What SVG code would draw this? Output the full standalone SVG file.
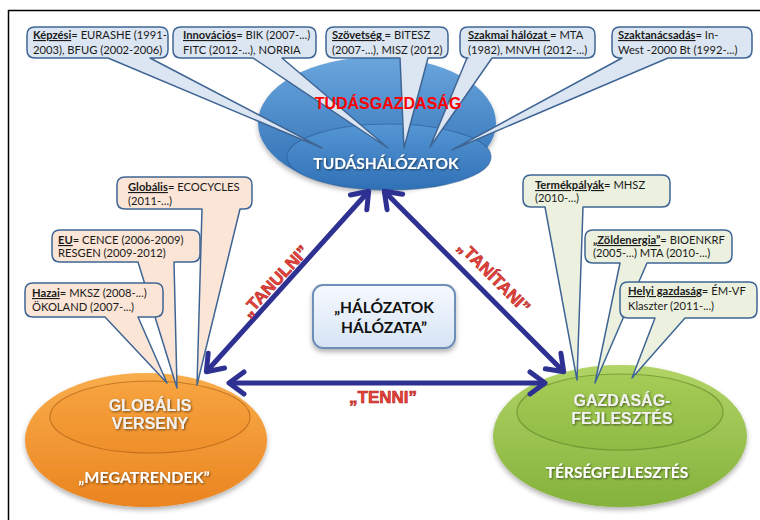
<svg xmlns="http://www.w3.org/2000/svg" width="760" height="520" viewBox="0 0 760 520">
<style>
.ct{font-family:Lato,"Liberation Sans",sans-serif;font-size:11.2px;fill:#1a1a1a}
.ct .k{font-weight:bold;text-decoration:underline}
.cb{fill:#dce6f2;stroke:#3f6594;stroke-width:1.5;stroke-linejoin:round}
.cp{fill:#fbe5d6;stroke:#3f6594;stroke-width:1.5;stroke-linejoin:round}
.cg{fill:#ebf1de;stroke:#3f6594;stroke-width:1.5;stroke-linejoin:round}
.ar{fill:none;stroke:#2e3192;stroke-width:5;marker-start:url(#ah);marker-end:url(#ah)}
.al{font-family:"Liberation Sans",Arial,sans-serif;font-weight:bold;font-size:17px;fill:#e8453c;stroke:#b51f1f;stroke-width:0.6;text-anchor:middle}
.ew{font-family:"Liberation Sans",Arial,sans-serif;font-weight:bold;font-size:16px;fill:#f2f2f2;text-anchor:middle}
.el{font-family:Lato,"Liberation Sans",sans-serif;font-weight:bold;fill:#ffffff;text-anchor:middle}
</style>
<defs>
<linearGradient id="gb" x1="0" y1="0" x2="0" y2="1"><stop offset="0" stop-color="#6aa6dd"/><stop offset="1" stop-color="#2c6cb2"/></linearGradient>
<linearGradient id="gbi" x1="0" y1="0" x2="0" y2="1"><stop offset="0" stop-color="#5596d4"/><stop offset="1" stop-color="#3070b6"/></linearGradient>
<linearGradient id="go" x1="0" y1="0" x2="0" y2="1"><stop offset="0" stop-color="#f9ad4c"/><stop offset="1" stop-color="#ea841f"/></linearGradient>
<linearGradient id="goi" x1="0" y1="0" x2="0" y2="1"><stop offset="0" stop-color="#f7a440"/><stop offset="1" stop-color="#ee8f2a"/></linearGradient>
<linearGradient id="gg" x1="0" y1="0" x2="0" y2="1"><stop offset="0" stop-color="#b2d467"/><stop offset="1" stop-color="#84b23b"/></linearGradient>
<linearGradient id="ggi" x1="0" y1="0" x2="0" y2="1"><stop offset="0" stop-color="#a5cc56"/><stop offset="1" stop-color="#8fbb44"/></linearGradient>
<linearGradient id="gc" x1="0" y1="0" x2="0" y2="1"><stop offset="0" stop-color="#f6f9fe"/><stop offset="1" stop-color="#d6e4f5"/></linearGradient>
<filter id="sh" x="-10%" y="-10%" width="120%" height="130%"><feDropShadow dx="0" dy="3" stdDeviation="2.5" flood-color="#000" flood-opacity="0.3"/></filter>
<filter id="ts" x="-10%" y="-30%" width="120%" height="160%"><feDropShadow dx="1" dy="1" stdDeviation="0.8" flood-color="#000" flood-opacity="0.55"/></filter>
<marker id="ah" markerUnits="userSpaceOnUse" markerWidth="40" markerHeight="40" viewBox="-20 -20 40 40" refX="0" refY="0" orient="auto-start-reverse"><path d="M-14,-11 L1,0 L-14,11" fill="none" stroke="#2e3192" stroke-width="5" stroke-linecap="round" stroke-linejoin="round"/></marker>
</defs>
<rect x="0" y="0" width="760" height="520" fill="#ffffff"/>
<path d="M8.5,520 V10.5 H760" fill="none" stroke="#000" stroke-width="1.5"/>

<g id="tudas">
<ellipse cx="377" cy="123" rx="119" ry="66" fill="url(#gb)" filter="url(#sh)"/>
<ellipse cx="389" cy="157" rx="102" ry="33" fill="url(#gbi)" stroke="#2a5f9a" stroke-opacity="0.6" stroke-width="1.2"/>
<text class="el" x="386" y="169" font-size="15.5" filter="url(#ts)">TUDÁSHÁLÓZATOK</text>
</g>
<g id="globalis">
<ellipse cx="146" cy="440" rx="121" ry="67" fill="url(#go)" filter="url(#sh)"/>
<ellipse cx="150" cy="417" rx="100" ry="36" fill="url(#goi)" stroke="#a85a10" stroke-opacity="0.6" stroke-width="1.2"/>
<text class="ew" x="150" y="411" filter="url(#ts)">GLOBÁLIS</text>
<text class="ew" x="150" y="429" filter="url(#ts)">VERSENY</text>
<text class="el" x="144" y="483" font-size="16" filter="url(#ts)">„MEGATRENDEK”</text>
</g>
<g id="gazdasag">
<ellipse cx="620" cy="436" rx="127" ry="71" fill="url(#gg)" filter="url(#sh)"/>
<ellipse cx="620" cy="412" rx="103" ry="38" fill="url(#ggi)" stroke="#5f8424" stroke-opacity="0.6" stroke-width="1.2"/>
<text class="ew" x="622" y="406" filter="url(#ts)">GAZDASÁG-</text>
<text class="ew" x="622" y="424" filter="url(#ts)">FEJLESZTÉS</text>
<text class="el" x="617" y="478" font-size="15.5" filter="url(#ts)">TÉRSÉGFEJLESZTÉS</text>
</g>

<g id="c-kepzesi">
<path class="cb" d="M35,27 H160 Q168,27 168,35 V50 Q168,58 160,58 H150 L322,148 L108,58 H35 Q27,58 27,50 V35 Q27,27 35,27 Z"/>
<text class="ct" x="33" y="39"><tspan class="k">Képzési</tspan>= EURASHE (1991-</text>
<text class="ct" x="33" y="54">2003), BFUG (2002-2006)</text>
</g>
<g id="c-innovacios">
<path class="cb" d="M181,27 H308 Q316,27 316,35 V50 Q316,58 308,58 H282 L388,148 L253,58 H181 Q173,58 173,50 V35 Q173,27 181,27 Z"/>
<text class="ct" x="183" y="39"><tspan class="k">Innovációs</tspan>= BIK (2007-...)</text>
<text class="ct" x="183" y="54">FITC (2012-...), NORRIA</text>
</g>
<g id="c-szovetseg">
<path class="cb" d="M334,27 H440 Q448,27 448,35 V50 Q448,58 440,58 H428 L404,148 L400,58 H334 Q326,58 326,50 V35 Q326,27 334,27 Z"/>
<text class="ct" x="332" y="39"><tspan class="k">Szövetség </tspan>= BITESZ</text>
<text class="ct" x="332" y="54">(2007-...), MISZ (2012)</text>
</g>
<g id="c-szakmai">
<path class="cb" d="M468,27 H587 Q595,27 595,35 V50 Q595,58 587,58 H492 L430,147 L467,58 H468 Q460,58 460,50 V35 Q460,27 468,27 Z"/>
<text class="ct" x="468" y="39"><tspan class="k">Szakmai hálózat </tspan>= MTA</text>
<text class="ct" x="468" y="54">(1982), MNVH (2012-...)</text>
</g>
<g id="c-szaktanacsadas">
<path class="cb" d="M620,27 H744 Q752,27 752,35 V50 Q752,58 744,58 H668 L452,150 L622,58 H620 Q612,58 612,50 V35 Q612,27 620,27 Z"/>
<text class="ct" x="618" y="39"><tspan class="k">Szaktanácsadás</tspan>= In-</text>
<text class="ct" x="618" y="54">West -2000 Bt (1992-...)</text>
</g>
<g id="tudas-label">
<text x="388" y="109" font-family="Liberation Sans,Arial,sans-serif" font-weight="bold" font-size="16" fill="#ff0000" text-anchor="middle">TUDÁSGAZDASÁG</text>
</g>

<g id="c-globalis">
<path class="cp" d="M125,177 H244 Q252,177 252,185 V201 Q252,209 244,209 H240 L197,385 L202,209 H125 Q117,209 117,201 V185 Q117,177 125,177 Z"/>
<text class="ct" x="128" y="191"><tspan class="k">Globális</tspan>= ECOCYCLES</text>
<text class="ct" x="128" y="205">(2011-...)</text>
</g>
<g id="c-eu">
<path class="cp" d="M60,230 H192 Q200,230 200,238 V254 Q200,262 192,262 H174 L177,388 L138,262 H60 Q52,262 52,254 V238 Q52,230 60,230 Z"/>
<text class="ct" x="58" y="244"><tspan class="k">EU</tspan>= CENCE (2006-2009)</text>
<text class="ct" x="58" y="257">RESGEN (2009-2012)</text>
</g>
<g id="c-hazai">
<path class="cp" d="M33,283 H155 Q163,283 163,291 V309 Q163,317 155,317 H138 L167,383 L105,317 H33 Q25,317 25,309 V291 Q25,283 33,283 Z"/>
<text class="ct" x="32" y="297"><tspan class="k">Hazai</tspan>= MKSZ (2008-...)</text>
<text class="ct" x="32" y="311">ÖKOLAND (2007-...)</text>
</g>

<g id="c-termekpalyak">
<path class="cg" d="M531,175 H662 Q670,175 670,183 V199 Q670,207 662,207 H583 L577,380 L545,207 H531 Q523,207 523,199 V183 Q523,175 531,175 Z"/>
<text class="ct" x="535" y="189"><tspan class="k">Termékpályák</tspan>= MHSZ</text>
<text class="ct" x="535" y="202">(2010-...)</text>
</g>
<g id="c-zoldenergia">
<path class="cg" d="M593,230 H724 Q732,230 732,238 V255 Q732,263 724,263 H647 L595,383 L620,263 H593 Q585,263 585,255 V238 Q585,230 593,230 Z"/>
<text class="ct" x="593" y="244"><tspan class="k">„Zöldenergia”</tspan>= BIOENKRF</text>
<text class="ct" x="593" y="257">(2005-...) MTA (2010-...)</text>
</g>
<g id="c-helyi">
<path class="cg" d="M628,282 H749 Q757,282 757,290 V310 Q757,318 749,318 H685 L632,378 L655,318 H628 Q620,318 620,310 V290 Q620,282 628,282 Z"/>
<text class="ct" x="628" y="295"><tspan class="k">Helyi  gazdaság</tspan>= ÉM-VF</text>
<text class="ct" x="628" y="310">Klaszter  (2011-...)</text>
</g>

<g id="connectors">
<line class="ar" x1="207" y1="371" x2="368" y2="192"/>
<line class="ar" x1="385" y1="192" x2="563" y2="371"/>
<line class="ar" x1="230" y1="383" x2="544" y2="383"/>
<text class="al" transform="translate(279,285) rotate(-47)">„TANULNI”</text>
<text class="al" transform="translate(490,281) rotate(45)">„TANÍTANI”</text>
<text class="al" x="383" y="403">„TENNI”</text>
</g>

<g id="halozatok">
<rect x="313" y="285" width="142" height="63" rx="10" fill="url(#gc)" stroke="#6d8fb8" stroke-width="2" filter="url(#sh)"/>
<text x="384" y="313" font-family="Lato,'Liberation Sans',sans-serif" font-weight="bold" font-size="15.5" fill="#111" text-anchor="middle">„HÁLÓZATOK</text>
<text x="384" y="333" font-family="Lato,'Liberation Sans',sans-serif" font-weight="bold" font-size="15.5" fill="#111" text-anchor="middle">HÁLÓZATA”</text>
</g>
</svg>
